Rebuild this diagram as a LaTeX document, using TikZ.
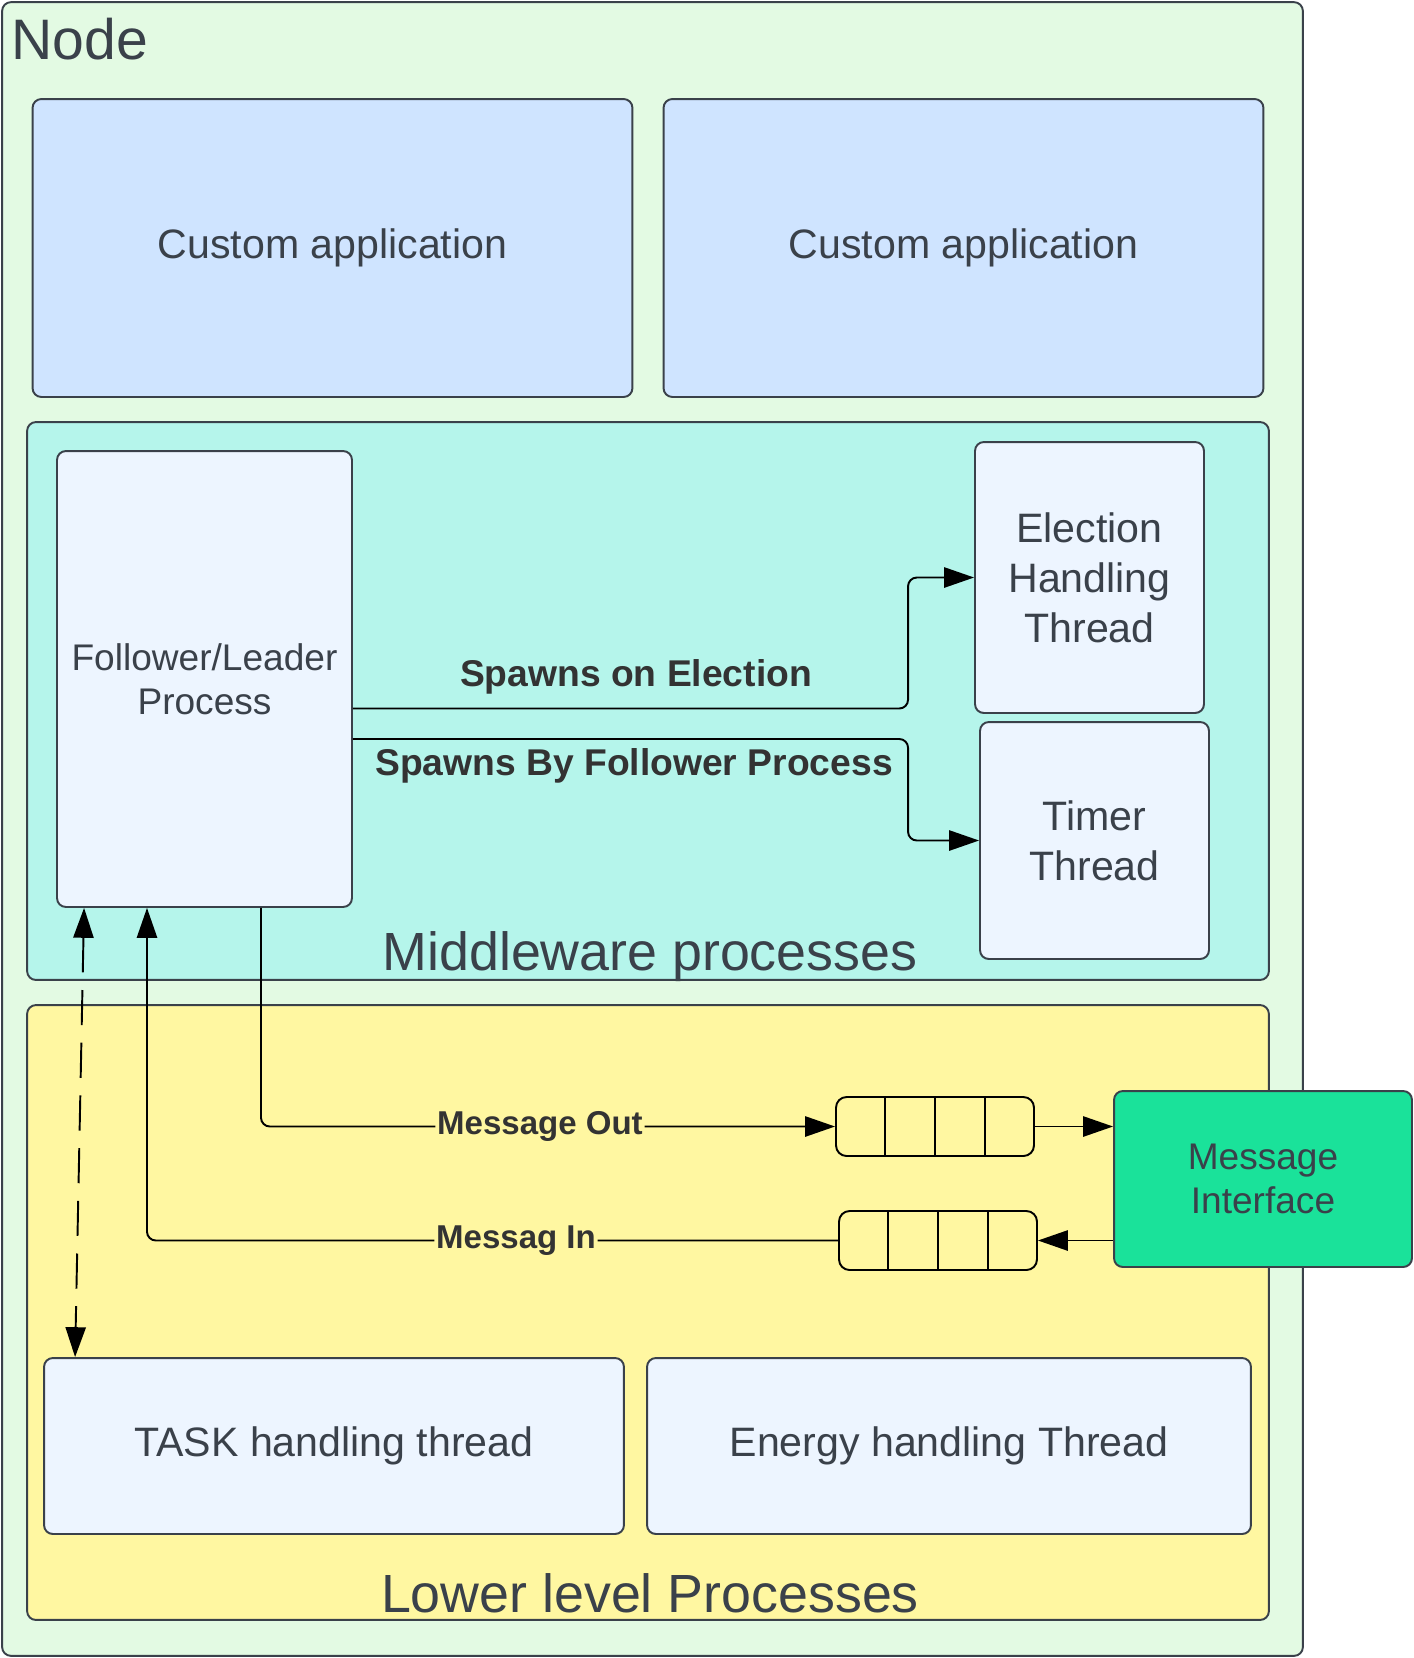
\documentclass[tikz,border=0pt]{standalone}
\usepackage{fontspec}
\setmainfont{Liberation Sans}
\usepackage{xcolor}
\usetikzlibrary{arrows.meta,positioning,calc}

\definecolor{nodegreen}{HTML}{E3FAE3}
\definecolor{appblue}{HTML}{CFE4FF}
\definecolor{midteal}{HTML}{B5F5EB}
\definecolor{innerblue}{HTML}{EDF5FF}
\definecolor{lowyellow}{HTML}{FFF7A1}
\definecolor{ifgreen}{HTML}{1AE29A}
\definecolor{edgegrey}{HTML}{3A414A}
\definecolor{lblgrey}{HTML}{333333}

\begin{document}
\begin{tikzpicture}[
    x=0.02cm, y=-0.02cm,
    >={Triangle[length=17pt,width=11.5pt]},
    box/.style={rectangle, draw=edgegrey, line width=1.1pt, rounded corners=5pt, text=edgegrey, align=center, inner sep=0pt},
    bigtext/.style={font=\fontsize{23.4}{28.4}\selectfont},
    midtext/.style={font=\fontsize{21.1}{25.3}\selectfont},
    title/.style={text=edgegrey, inner sep=0pt, font=\fontsize{30.6}{36}\selectfont},
    queue/.style={rectangle, draw=black, line width=1.1pt, rounded corners=6pt, fill=lowyellow, minimum width=3.96cm, minimum height=1.18cm},
    arrow/.style={->, draw=black, line width=1.1pt, rounded corners=5pt},
    spawnlbl/.style={text=lblgrey, inner sep=0pt, font=\fontsize{21.2}{25}\selectfont\bfseries},
    msglbl/.style={text=lblgrey, fill=lowyellow, inner sep=1pt, font=\fontsize{18.8}{22}\selectfont\bfseries},
]
    \useasboundingbox (0,0) rectangle (1414,1658);

    % containers
    \node[box, fill=nodegreen, minimum width=26.02cm, minimum height=33.08cm] (node) at (652.5,829) {};
    \node[title, anchor=west, font=\fontsize{32.5}{38}\selectfont] (nodetitle) at (11,39) {Node};

    \node[box, bigtext, fill=appblue, minimum width=12cm, minimum height=5.96cm] (app1) at (332.5,248) {Custom application};
    \node[box, bigtext, fill=appblue, minimum width=12cm, minimum height=5.96cm] (app2) at (963.5,248) {Custom application};

    \node[box, fill=midteal, minimum width=24.84cm, minimum height=11.16cm] (middleware) at (648,701) {};
    \node[title, anchor=base] (midtitle) at (650,970) {Middleware processes};

    \node[box, fill=lowyellow, minimum width=24.84cm, minimum height=12.3cm] (lower) at (648,1312.5) {};
    \node[title, anchor=base] (lowtitle) at (650,1612) {Lower level Processes};

    % processes and threads
    \node[box, midtext, fill=innerblue, minimum width=5.9cm, minimum height=9.12cm] (follower) at (204.5,679) {Follower/Leader\\Process};
    \node[box, bigtext, fill=innerblue, minimum width=4.58cm, minimum height=5.42cm] (election) at (1089.5,577.5) {Election\\Handling\\Thread};
    \node[box, bigtext, fill=innerblue, minimum width=4.58cm, minimum height=4.74cm] (timer) at (1094.5,840.5) {Timer\\Thread};

    \node[box, bigtext, fill=innerblue, minimum width=11.6cm, minimum height=3.52cm] (task) at (334,1446) {TASK handling thread};
    \node[box, bigtext, fill=innerblue, minimum width=12.08cm, minimum height=3.52cm] (energy) at (949,1446) {Energy handling Thread};

    \node[box, midtext, fill=ifgreen, minimum width=5.96cm, minimum height=3.52cm] (msgif) at (1263,1179) {Message\\Interface};

    % queues
    \node[queue] (qout) at (935,1126.5) {};
    \node[queue] (qin) at (938,1240.5) {};
    \foreach \q in {qout,qin}
        \foreach \f in {0.25,0.5,0.75}
            \draw[line width=1.1pt] ($(\q.north west)!\f!(\q.north east)$) -- ($(\q.south west)!\f!(\q.south east)$);

    % spawning
    \draw[arrow] ($(follower.east)+(0,29.5)$) -| ($(election.west)+(-66,0)$) -- (election.west);
    \draw[arrow] ($(follower.east)+(0,60)$) -| ($(timer.west)+(-71,0)$) -- (timer.west);
    \node[spawnlbl, anchor=base] (lblelec) at (636,686) {Spawns on Election};
    \node[spawnlbl, anchor=base] (lbltimer) at (634,775) {Spawns By Follower Process};

    % messages
    \draw[arrow] ($(follower.south)+(56.5,0)$) |- node[msglbl, pos=0.743] {Message Out} (qout.west);
    \draw[arrow] (qout.east) -- (qout.east -| msgif.west);
    \draw[arrow] (msgif.west |- qin.east) -- (qin.east);
    \draw[arrow] (qin.west) -| node[msglbl, pos=0.233] {Messag In} ($(follower.south)+(-57.5,0)$);
    \draw[<->, line width=1.1pt, dash pattern=on 20pt off 10pt] ($(follower.south west)+(28,0)$) -- ($(task.north west)+(32,0)$);
\end{tikzpicture}
\end{document}
